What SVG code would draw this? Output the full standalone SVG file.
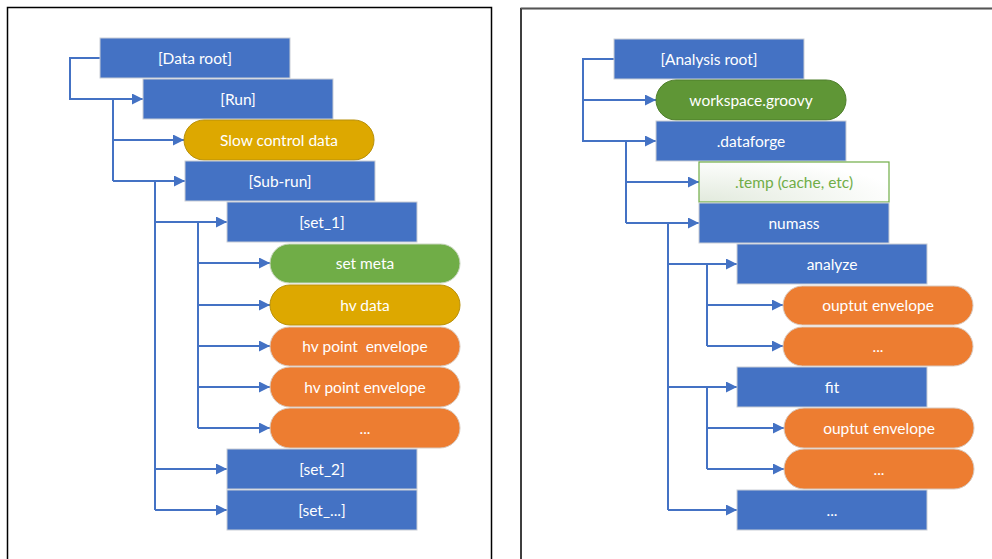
<svg xmlns="http://www.w3.org/2000/svg" width="992" height="559" viewBox="0 0 992 559">
<style>
  .frame{fill:none;stroke:#000;stroke-width:1.5}
  .blue{fill:#4472C4;stroke:#C9CED6;stroke-width:1}
  .gold{fill:#DDA800;stroke:#B8900A;stroke-width:1}
  .green{fill:#70AD47;stroke:#C9D6C0;stroke-width:1}
  .dgreen{fill:#5F9636;stroke:#4F7F2B;stroke-width:1}
  .orange{fill:#ED7D31;stroke:#D9C9BE;stroke-width:1}
  .temp{fill:url(#tg);stroke:#70AD47;stroke-width:1.2}
  text{font-family:Lato,"Open Sans","Liberation Sans",sans-serif;font-size:15.5px;fill:#fff;text-anchor:middle;white-space:pre}
  .tg{fill:#70AD47}
  .c{fill:none;stroke:#4472C4;stroke-width:2;marker-end:url(#ah)}
  .l{fill:none;stroke:#4472C4;stroke-width:2}
</style>
<defs>
  <marker id="ah" markerUnits="userSpaceOnUse" markerWidth="11" markerHeight="11" refX="11" refY="5.5" orient="auto">
    <path d="M0,0 L11,5.5 L0,11 z" fill="#4472C4"/>
  </marker>
  <radialGradient id="tg" cx="0" cy="1" r="1.1">
    <stop offset="0" stop-color="#E2EADD"/>
    <stop offset="1" stop-color="#FFFFFF"/>
  </radialGradient>
</defs>
<rect width="992" height="559" fill="#fff"/>
<rect class="frame" x="7.5" y="7.5" width="484" height="570"/>
<path d="M521,570 V8.5 H1000" fill="none" stroke="#000" stroke-width="1.5"/>
<path d="M521,8.5 H1000" fill="none" stroke="#555" stroke-width="1.5"/>

<g id="connectors">
  <path class="c" d="M100,58 H70 V99 H143"/>
  <path class="l" d="M113,99 V181"/>
  <path class="c" d="M113,140 H184"/>
  <path class="c" d="M113,181 H185"/>
  <path class="l" d="M155,181 V510"/>
  <path class="c" d="M155,222 H227"/>
  <path class="c" d="M155,469 H227"/>
  <path class="c" d="M155,510 H227"/>
  <path class="l" d="M198,222 V428"/>
  <path class="c" d="M198,263 H270"/>
  <path class="c" d="M198,305 H270"/>
  <path class="c" d="M198,346 H270"/>
  <path class="c" d="M198,387 H270"/>
  <path class="c" d="M198,428 H270"/>

  <path class="c" d="M614,59 H583 V141 H656"/>
  <path class="c" d="M583,100 H656"/>
  <path class="l" d="M626,141 V223"/>
  <path class="c" d="M626,182 H699"/>
  <path class="c" d="M626,223 H699"/>
  <path class="l" d="M668,223 V510"/>
  <path class="c" d="M668,264 H737"/>
  <path class="c" d="M668,387 H737"/>
  <path class="c" d="M668,510 H737"/>
  <path class="l" d="M707,264 V346"/>
  <path class="c" d="M707,305 H783"/>
  <path class="c" d="M707,346 H783"/>
  <path class="l" d="M707,387 V469"/>
  <path class="c" d="M707,428 H784"/>
  <path class="c" d="M707,469 H784"/>
</g>

<g id="data-root"><rect class="blue" x="100" y="38" width="190" height="40"/><text x="195" y="64">[Data root]</text></g>
<g id="run"><rect class="blue" x="143" y="79" width="190" height="40"/><text x="238" y="105">[Run]</text></g>
<g id="slow-control"><rect class="gold" x="184" y="120" width="190" height="40" rx="20"/><text x="279" y="146">Slow control data</text></g>
<g id="sub-run"><rect class="blue" x="185" y="161" width="190" height="40"/><text x="280" y="187">[Sub-run]</text></g>
<g id="set1"><rect class="blue" x="227" y="202" width="190" height="40"/><text x="322" y="228">[set_1]</text></g>
<g id="set-meta"><rect class="green" x="270" y="244" width="190" height="39" rx="19.5"/><text x="365" y="269">set meta</text></g>
<g id="hv-data"><rect class="gold" x="270" y="285" width="190" height="40" rx="20"/><text x="365" y="311">hv data</text></g>
<g id="hv-env1"><rect class="orange" x="270" y="327" width="190" height="39" rx="19.5"/><text x="365" y="352" xml:space="preserve">hv point  envelope</text></g>
<g id="hv-env2"><rect class="orange" x="270" y="367" width="190" height="40" rx="20"/><text x="365" y="393">hv point envelope</text></g>
<g id="hv-more"><rect class="orange" x="270" y="408" width="190" height="40" rx="20"/><text x="365" y="434">...</text></g>
<g id="set2"><rect class="blue" x="227" y="449" width="190" height="40"/><text x="322" y="475">[set_2]</text></g>
<g id="set-more"><rect class="blue" x="227" y="490" width="190" height="40"/><text x="322" y="516">[set_...]</text></g>

<g id="analysis-root"><rect class="blue" x="614" y="39" width="190" height="40"/><text x="709" y="65">[Analysis root]</text></g>
<g id="workspace"><rect class="dgreen" x="656" y="80" width="190" height="40" rx="20"/><text x="751" y="106">workspace.groovy</text></g>
<g id="dataforge"><rect class="blue" x="656" y="121" width="190" height="40"/><text x="751" y="147">.dataforge</text></g>
<g id="temp"><rect class="temp" x="699" y="162" width="190" height="40"/><text class="tg" x="794" y="188">.temp (cache, etc)</text></g>
<g id="numass"><rect class="blue" x="699" y="203" width="190" height="40"/><text x="794" y="229">numass</text></g>
<g id="analyze"><rect class="blue" x="737" y="244" width="190" height="40"/><text x="832" y="270">analyze</text></g>
<g id="an-out"><rect class="orange" x="783" y="286" width="190" height="39" rx="19.5"/><text x="878" y="311">ouptut envelope</text></g>
<g id="an-more"><rect class="orange" x="783" y="327" width="190" height="39" rx="19.5"/><text x="878" y="352">...</text></g>
<g id="fit"><rect class="blue" x="737" y="367" width="190" height="40"/><text x="832" y="393">fit</text></g>
<g id="fit-out"><rect class="orange" x="784" y="408" width="190" height="40" rx="20"/><text x="879" y="434">ouptut envelope</text></g>
<g id="fit-more"><rect class="orange" x="784" y="449" width="190" height="40" rx="20"/><text x="879" y="475">...</text></g>
<g id="more"><rect class="blue" x="737" y="490" width="190" height="40"/><text x="832" y="516">...</text></g>
</svg>
